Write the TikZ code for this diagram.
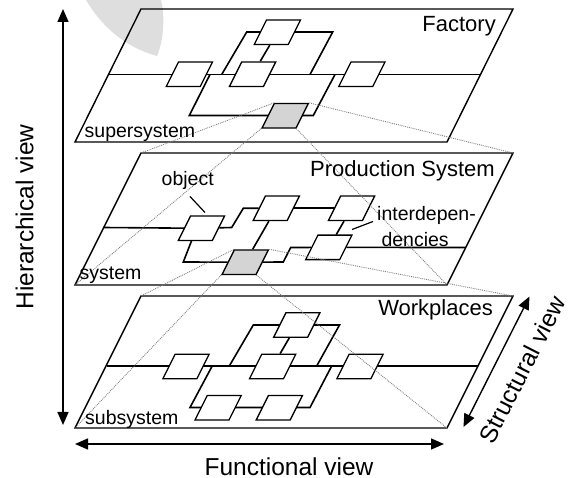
\documentclass[tikz,border=0pt]{standalone}
\usepackage{fontspec}
\setmainfont{Liberation Sans}
\usetikzlibrary{arrows.meta,backgrounds}
\begin{document}
\begin{tikzpicture}[x=1pt,y=-1pt,
  plane/.style={draw=black, line width=1.4pt, line join=miter},
  wire/.style={draw=black, line width=1.6pt, line join=miter},
  obj/.style={draw=black, fill=white, line width=1.3pt, minimum width=34pt, minimum height=24.5pt, inner sep=0pt, xslant=0.5},
  grayobj/.style={obj, fill=black!17},
  proj/.style={draw=black!50, line width=0.9pt, densely dotted},
  title/.style={font=\fontsize{22}{26}\selectfont, inner sep=0pt, anchor=base east},
  lab/.style={font=\fontsize{19.5}{24}\selectfont, inner sep=0pt, anchor=base west},
  axislab/.style={font=\fontsize{24.5}{29}\selectfont, inner sep=0pt},
  pointer/.style={draw=black, line width=1.2pt},
  axis/.style={line width=1.4pt, {Triangle[length=13pt,width=11pt]}-{Triangle[length=13pt,width=11pt]}},
]
\useasboundingbox (0,0) rectangle (568,478);

% plane corners
\coordinate (A-tl) at (141,9);   \coordinate (A-tr) at (513,9);   \coordinate (A-br) at (447,142); \coordinate (A-bl) at (75,142);
\coordinate (B-tl) at (141,153); \coordinate (B-tr) at (513,153); \coordinate (B-br) at (447,285); \coordinate (B-bl) at (75,285);
\coordinate (C-tl) at (141,296); \coordinate (C-tr) at (513,296); \coordinate (C-br) at (447,428); \coordinate (C-bl) at (75,428);

% planes
\draw[plane] (A-tl) -- (A-tr) -- (A-br) -- (A-bl) -- cycle;
\draw[plane] (B-tl) -- (B-tr) -- (B-br) -- (B-bl) -- cycle;
\draw[plane] (C-tl) -- (C-tr) -- (C-br) -- (C-bl) -- cycle;

% objects: Factory
\node[obj] (f1) at (189.4,74.2) {};
\node[obj] (f2) at (252.6,74.2) {};
\node[obj] (f3) at (277.4,32.2) {};
\node[obj] (f4) at (361.9,74.2) {};
\node[grayobj] (fg) at (285.2,115.8) {};
% objects: Production system
\node[obj] (pa) at (201.4,228.3) {};
\node[obj] (pb) at (276.3,208.3) {};
\node[obj] (pc) at (351.5,208.3) {};
\node[obj] (pd) at (328.8,247.4) {};
\node[grayobj] (pg) at (245.2,262.2) {};
% objects: Workplaces
\node[obj] (w1) at (186,366.5) {};
\node[obj] (w2) at (272.6,366.5) {};
\node[obj] (w3) at (296.8,325) {};
\node[obj] (w4) at (360,366.5) {};
\node[obj] (w5) at (218.1,407.8) {};
\node[obj] (w6) at (279.3,407.8) {};

% wire end coordinates
\coordinate (A-l) at (108,74.5);  \coordinate (A-r) at (480.5,74.5);
\coordinate (B-l) at (103.3,227.5); \coordinate (B-r) at (465.5,247.5);
\coordinate (C-l) at (106.5,366); \coordinate (C-r) at (478,366);

\begin{scope}[on background layer]
  % watermark arc
  \fill[black!13] (86,0) .. controls (104,30) and (128,48) .. (157,56) .. controls (164,40) and (165,15) .. (161,0) -- cycle;
  % Factory wires
  \draw[wire] (A-l) -- (A-r);
  \draw[wire] (221.7,74.5) -- (246.7,32) -- (332.7,32) -- (310,74.5);
  \draw[wire] (210,74.5) -- (189.3,115.5) -- (313.3,115.5) -- (335,74.5);
  \draw[wire] (f3) -- (f2);
  % Production system wires
  \draw[wire] (B-l) -- (pa);
  \draw[wire] (pa) -- (231.7,227.5) -- (243.3,208.3) -- (pb);
  \draw[wire] (pb) -- (pc);
  \draw[wire] (pb) -- (pg);
  \draw[wire] ([xshift=-5pt]pa.center) -- (183.3,262) -- (pg);
  \draw[wire] (pg) -- (283.3,262) -- (290.7,247.5) -- (pd);
  \draw[wire] (pc) -- (pd);
  \draw[wire] (pd) -- (B-r);
  % Workplaces wires
  \draw[wire] (C-l) -- (C-r);
  \draw[wire] (229.3,366) -- (253.3,325) -- (339.5,325) -- (316.7,366);
  \draw[wire] (w3) -- (w2);
  \draw[wire] (212.2,366) -- (190,407.5) -- (310,407.5) -- (331.7,366);
\end{scope}

% projection lines
\draw[proj] (fg.north west) -- (B-tl);
\draw[proj] (fg.north east) -- (B-tr);
\draw[proj] (fg.south west) -- (B-bl);
\draw[proj] (fg.south east) -- (B-br);
\draw[proj] (pg.north west) -- (C-tl);
\draw[proj] (pg.north east) -- (C-tr);
\draw[proj] (pg.south west) -- (C-bl);
\draw[proj] (pg.south east) -- (C-br);

% titles and labels
\node[title] (tA) at (496,31.5) {Factory};
\node[title] (tB) at (495,176.5) {Production System};
\node[title] (tC) at (493,315.5) {Workplaces};
\node[lab] (lA) at (84.5,137.5) {supersystem};
\node[lab] (lB) at (79.5,280) {system};
\node[lab] (lC) at (85,424.5) {subsystem};
\node[lab] (lobj) at (161.5,185.7) {object};
\node[lab] (lint1) at (377,220.5) {interdepen-};
\node[lab] (lint2) at (381.3,246.5) {dencies};
\coordinate (lobj-p) at (190,196.5); \coordinate (pa-p) at (205,212.5);
\coordinate (lint-p) at (373,221.5); \coordinate (pd-p) at (352,229.5);
\draw[pointer] (lobj-p) -- (pa-p);
\draw[pointer] (lint-p) -- (pd-p);

% axes
\coordinate (h-top) at (63,9);   \coordinate (h-bot) at (63,425);
\coordinate (f-left) at (75,444); \coordinate (f-right) at (444,444);
\coordinate (s-bot) at (463.5,427); \coordinate (s-top) at (529.5,296.5);
\draw[axis] (h-bot) -- (h-top);
\draw[axis] (f-left) -- (f-right);
\draw[axis] (s-bot) -- (s-top);
\node[axislab, rotate=90, anchor=base] (hlab) at (33.3,217) {Hierarchical view};
\node[axislab, anchor=base] (flab) at (289,475.5) {Functional view};
\node[axislab, rotate=63] (slab) at (522,369.5) {Structural view};
\end{tikzpicture}
\end{document}
